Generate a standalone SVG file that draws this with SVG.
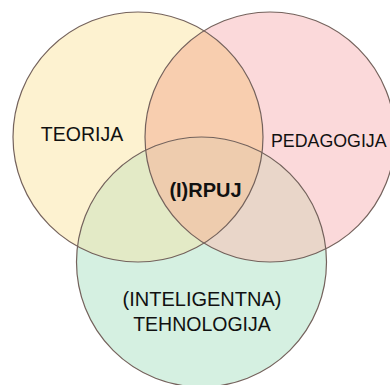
<svg xmlns="http://www.w3.org/2000/svg" width="390" height="385" viewBox="0 0 390 385">
  <defs>
    <circle id="cY" cx="138" cy="137" r="125"/>
    <circle id="cP" cx="270" cy="137" r="125"/>
    <circle id="cT" cx="201.5" cy="262" r="125"/>
    <clipPath id="clipY"><use href="#cY"/></clipPath>
    <clipPath id="clipP"><use href="#cP"/></clipPath>
  </defs>
  <style>
    .ring { fill: none; stroke: #74625c; stroke-width: 1.2; }
    .lbl { font-family: "Liberation Sans", Arial, sans-serif; fill: #111; }
  </style>
  <rect width="390" height="385" fill="#ffffff"/>
  <g id="teorija">
    <use href="#cY" fill="#fdf2d0"/>
  </g>
  <g id="pedagogija">
    <use href="#cP" fill="#fbd9da"/>
  </g>
  <g id="tehnologija">
    <use href="#cT" fill="#d5f0e1"/>
  </g>
  <g id="overlaps">
    <g clip-path="url(#clipP)">
      <use href="#cT" fill="#e9d6c9"/>
    </g>
    <g clip-path="url(#clipY)">
      <use href="#cP" fill="#f8ceaf"/>
      <use href="#cT" fill="#e3eac6"/>
      <g clip-path="url(#clipP)">
        <use href="#cT" fill="#eeccae"/>
      </g>
    </g>
  </g>
  <g id="outlines">
    <use href="#cY" class="ring"/>
    <use href="#cP" class="ring"/>
    <use href="#cT" class="ring"/>
  </g>
  <g id="labels">
    <text class="lbl" x="82" y="141" font-size="19.5" text-anchor="middle">TEORIJA</text>
    <text class="lbl" x="271" y="146.5" font-size="17.8">PEDAGOGIJA</text>
    <text class="lbl" x="205.5" y="196.5" font-size="20" font-weight="bold" text-anchor="middle">(I)RPUJ</text>
    <text class="lbl" x="202" y="305.5" font-size="20" text-anchor="middle">(INTELIGENTNA)</text>
    <text class="lbl" x="202" y="331" font-size="19.5" text-anchor="middle">TEHNOLOGIJA</text>
  </g>
</svg>
